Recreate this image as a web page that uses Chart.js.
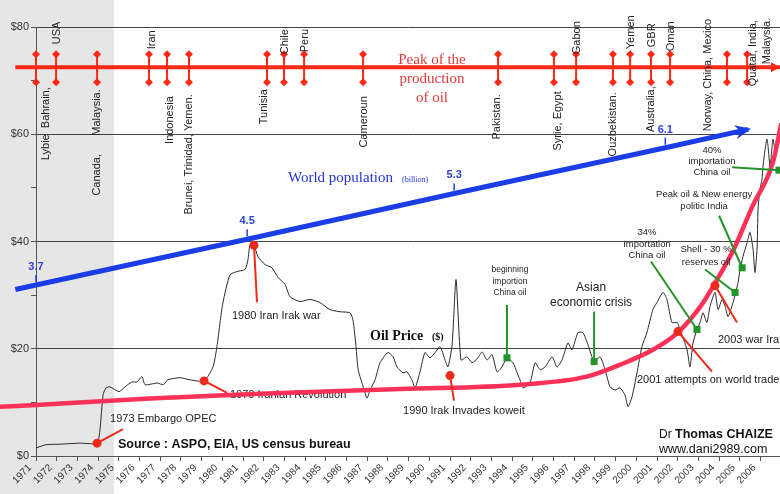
<!DOCTYPE html>
<html>
<head>
<meta charset="utf-8">
<script src="https://cdn.jsdelivr.net/npm/chart.js@4.4.0/dist/chart.umd.min.js"></script>
<style>
  html, body { margin: 0; padding: 0; background: #fff; }
</style>
</head>
<body>
<canvas id="main_chart" width="780" height="494"></canvas>
<script>
// oil price
const oilYears = [1971.00, 1971.48, 1972.16, 1973.13, 1973.95, 1974.09, 1974.24, 1974.38, 1974.57, 1975.01,
  1975.30, 1975.63, 1975.88, 1976.12, 1976.27, 1976.85, 1977.16, 1977.36, 1977.96, 1978.44,
  1979.12, 1979.55, 1979.74, 1979.89, 1980.03, 1980.37, 1980.71, 1981.10, 1981.24, 1981.34,
  1981.53, 1981.72, 1982.06, 1982.40, 1982.69, 1983.03, 1983.27, 1983.75, 1984.24, 1984.72,
  1985.20, 1985.69, 1986.17, 1986.31, 1986.46, 1986.56, 1986.75, 1986.99, 1987.14, 1987.38,
  1987.62, 1988.00, 1988.25, 1988.44, 1988.73, 1988.92, 1989.16, 1989.31, 1989.55, 1989.79,
  1990.03, 1990.28, 1990.52, 1990.76, 1990.90, 1991.10, 1991.29, 1991.53, 1991.82, 1992.06,
  1992.35, 1992.55, 1992.79, 1993.03, 1993.27, 1993.51, 1993.75, 1994.04, 1994.24, 1994.38,
  1994.53, 1994.86, 1995.11, 1995.35, 1995.59, 1995.93, 1996.17, 1996.41, 1996.70, 1996.89,
  1997.18, 1997.42, 1997.67, 1997.96, 1998.25, 1998.49, 1998.73, 1998.97, 1999.21, 1999.45,
  1999.60, 1999.79, 2000.03, 2000.27, 2000.51, 2000.80, 2000.99, 2001.29, 2001.48, 2001.72,
  2001.97, 2002.11, 2002.45, 2002.59, 2002.74, 2002.93, 2003.08, 2003.22, 2003.41, 2003.56,
  2003.80, 2003.95, 2004.14, 2004.29, 2004.43, 2004.67, 2004.91, 2005.01, 2005.15, 2005.35,
  2005.49, 2005.64, 2005.73, 2005.83, 2005.88, 2005.97, 2006.07, 2006.12, 2006.22, 2006.31,
  2006.36, 2006.46, 2006.56, 2006.60, 2006.70, 2006.80];
const oilPrices = [1.5, 2.1, 2.2, 2.4, 2.4, 4.9, 11.4, 12.7, 12.9, 12.0,
  12.9, 13.8, 13.8, 14.8, 13.3, 13.6, 13.3, 14.2, 14.6, 14.2,
  14.0, 16.6, 20.4, 24.9, 28.6, 33.8, 34.4, 34.8, 36.6, 39.4,
  39.3, 37.2, 35.7, 35.1, 33.3, 32.0, 29.7, 28.8, 29.2, 28.6,
  27.3, 26.9, 26.7, 25.4, 20.4, 16.1, 13.6, 10.8, 12.3, 14.2,
  17.4, 19.3, 18.5, 16.6, 15.5, 15.7, 14.2, 12.7, 15.7, 19.3,
  18.3, 19.3, 20.4, 17.9, 16.6, 20.7, 32.9, 17.9, 18.5, 17.4,
  18.3, 19.4, 17.9, 18.9, 15.7, 16.6, 18.3, 17.4, 15.5, 14.2,
  12.7, 13.6, 17.4, 16.1, 16.6, 18.5, 16.6, 17.9, 21.1, 19.8,
  23.0, 23.0, 20.7, 17.6, 18.5, 16.1, 12.9, 12.3, 12.7, 11.4,
  9.2, 11.0, 15.5, 20.4, 23.0, 27.3, 28.6, 30.5, 29.2, 24.9,
  24.9, 23.6, 19.8, 16.6, 21.1, 23.6, 24.9, 26.7, 24.9, 27.9,
  30.5, 27.3, 29.2, 27.9, 26.0, 28.6, 32.3, 34.8, 37.2, 39.8,
  41.7, 38.5, 34.2, 38.5, 46.0, 49.7, 51.6, 54.0, 57.2, 59.1,
  57.8, 54.0, 57.8, 59.1, 57.2, 58.5];

// red exponential trend
const trendYears = [1969.26, 1971, 1976.5, 1981.8, 1988.6, 1994.4, 1997.6, 1999.2, 2000.8, 2002.0, 2003.1, 2003.7, 2004.7, 2005.6, 2006.6, 2007.0];
const trendPrices = [9.2, 9.5, 10.7, 11.6, 12.5, 13.3, 14.8, 17.0, 19.8, 23.0, 27.9, 31.6, 38.5, 46.5, 54.8, 62.0];

// world population (billion)
const popYears = [1970, 1971, 1981.2, 1991.2, 2001.4, 2005.4];
const popValues = [3.62, 3.7, 4.5, 5.3, 6.1, 6.42];
const popLabels = ['', '3.7', '4.5', '5.3', '6.1', ''];

// peak of oil production per country
const peakLevel = 72.5;
const peakLineYears = [1970, 2007.5];
const peakYears = [1971.0, 1971.97, 1973.95, 1976.46, 1977.33, 1978.39, 1982.16, 1982.98, 1983.95, 1986.8,
  1993.32, 1996.02, 1997.09, 1998.87, 1999.7, 2000.71, 2001.63, 2004.38, 2005.35];
const countryNames = ['Lybie  Bahrain,', 'USA', 'Canada,      Malaysia.', 'Iran', 'Indonesia', 'Brunei, Trinidad, Yemen.',
  'Tunisia', 'Chile', 'Peru', 'Cameroun', 'Pakistan.', 'Syrie, Egypt', 'Gabon', 'Ouzbekistan.', 'Yemen',
  'Australia,', 'GBR', 'Oman', 'Norway, China, Mexico', 'Quatar, India,', 'Malaysia.'];
const countryYears = [1971.5, 1972.0, 1973.95, 1976.6, 1977.47, 1978.39, 1982.01, 1983.03, 1984.0, 1986.85,
  1993.27, 1996.22, 1997.14, 1998.87, 1999.74, 2000.71, 2000.76, 2001.68, 2003.46, 2005.64, 2006.31];

// events (red) and notes (green)
const eventNames = ['1973 Embargo OPEC', '1979 Iranian Revolution', '1980 Iran Irak war',
  '1990 Irak Invades koweit', '2001 attempts on world trade', '2003 war Irak'];
const eventYears = [1973.95, 1979.12, 1981.53, 1991.0, 2002.01, 2003.8];
const eventPrices = [2.4, 14.0, 39.3, 15.0, 23.2, 31.8];

const noteTexts = [['beginning', 'importion', 'China oil'], ['Asian', 'economic crisis'],
  ['34%', 'Importation', 'China oil'], ['Shell - 30 %', 'reserves oil'],
  ['Peak oil & New energy', 'politic India'], ['40%', 'importation', 'China oil']];
const noteYears = [1993.75, 1997.96, 2002.93, 2004.77, 2005.11, 2006.89];
const notePrices = [18.3, 17.6, 23.6, 30.5, 35.1, 53.3];

const shadeEndYear = 1974.77;

// layout of the labels (pixel offsets)
const countryPlace = [[20, 'right'], [-23, 'left'], [22, 'right'], [-18, 'left'], [29, 'right'], [27, 'right'],
  [22, 'right'], [-13, 'left'], [-15, 'left'], [29, 'right'], [27, 'right'], [24, 'right'], [-13, 'left'],
  [25, 'right'], [-18, 'left'], [19, 'right'], [-20, 'left'], [-16, 'left'], [64, 'left'], [19, 'left'], [-3, 'left']];
const eventPlace = [{line: [26, -14], text: [13, -24]}, {line: [23, 12], text: [26, 14]},
  {line: [3, 57], text: [-22, 71]}, {line: [4, 25], text: [-47, 35]},
  {line: [34, 40], text: [-41, 48]}, {line: [22, 37], text: [3, 54]}];
const notePlace = [{line: [0, -53], text: [3, -88], lh: 11.5, size: 8.5},
  {line: [0, -50], text: [-3, -74], lh: 15, size: 12},
  {line: [-46, -68], text: [-50, -97], lh: 11.5, size: 9.5},
  {line: [-30, -23], text: [-29, -43], lh: 13, size: 9.5},
  {line: [-23, -52], text: [-38, -73], lh: 12, size: 9.5},
  {line: [-47, -3], text: [-67, -20], lh: 11, size: 9.5}];

const SANS = '"Liberation Sans", Arial, sans-serif';
const SERIF = '"Liberation Serif", "Times New Roman", serif';
const RED = '#ff2814';
const BLUE = '#1b3de6';
const GREEN = '#23942a';

function toPoints(xs, ys) {
  return xs.map((x, i) => ({x: x, y: ys[i]}));
}

function diamond(ctx, cx, cy, r) {
  ctx.beginPath();
  ctx.moveTo(cx, cy - r);
  ctx.lineTo(cx + r, cy);
  ctx.lineTo(cx, cy + r);
  ctx.lineTo(cx - r, cy);
  ctx.closePath();
  ctx.fill();
}

const decorations = {
  id: 'decorations',
  beforeDraw(chart) {
    const {ctx, scales: {x}} = chart;
    ctx.save();
    ctx.fillStyle = '#fff';
    ctx.fillRect(0, 0, chart.width, chart.height);
    ctx.fillStyle = '#e6e6e6';
    ctx.fillRect(0, 0, x.getPixelForValue(shadeEndYear), chart.height);
    ctx.restore();
  },
  beforeDatasetsDraw(chart) {
    const {ctx, scales: {x, y}} = chart;
    ctx.save();
    // event captions sit under the curves
    ctx.fillStyle = '#222';
    ctx.font = '11px ' + SANS;
    ctx.textAlign = 'left';
    ctx.textBaseline = 'middle';
    eventNames.forEach((name, i) => {
      const ex = x.getPixelForValue(eventYears[i]);
      const ey = y.getPixelForValue(eventPrices[i]);
      ctx.fillText(name, ex + eventPlace[i].text[0], ey + eventPlace[i].text[1]);
    });
    ctx.restore();
  },
  afterDatasetsDraw(chart) {
    const {ctx, scales: {x, y, yPop}} = chart;
    ctx.save();

    // peak markers
    const peakY = y.getPixelForValue(peakLevel);
    ctx.strokeStyle = RED;
    ctx.fillStyle = RED;
    ctx.lineWidth = 2;
    peakYears.forEach(yr => {
      const mx = x.getPixelForValue(yr);
      ctx.beginPath();
      ctx.moveTo(mx, peakY - 13);
      ctx.lineTo(mx, peakY + 15);
      ctx.stroke();
      diamond(ctx, mx, peakY - 13, 4);
      diamond(ctx, mx, peakY + 15, 4);
    });
    // arrow at the end of the peak line
    const right = chart.width;
    ctx.beginPath();
    ctx.moveTo(right, peakY);
    ctx.lineTo(right - 9, peakY - 5);
    ctx.lineTo(right - 9, peakY + 5);
    ctx.closePath();
    ctx.fill();

    // country names
    ctx.fillStyle = '#222';
    ctx.font = '11px ' + SANS;
    ctx.textBaseline = 'middle';
    countryNames.forEach((name, i) => {
      ctx.save();
      ctx.translate(x.getPixelForValue(countryYears[i]), peakY + countryPlace[i][0]);
      ctx.rotate(-Math.PI / 2);
      ctx.textAlign = countryPlace[i][1];
      ctx.fillText(name, 0, 0);
      ctx.restore();
    });

    // "Peak of the production of oil"
    ctx.fillStyle = '#df3a3a';
    ctx.font = '15px ' + SERIF;
    ctx.textAlign = 'center';
    ['Peak of the', 'production', 'of oil'].forEach((t, i) => {
      ctx.fillText(t, 432, 60 + i * 19);
    });

    // population labels + arrow
    ctx.strokeStyle = BLUE;
    ctx.fillStyle = '#3042d8';
    ctx.font = 'bold 11px ' + SANS;
    ctx.lineWidth = 1.5;
    popYears.forEach((yr, i) => {
      if (!popLabels[i]) return;
      const lx = x.getPixelForValue(yr);
      const ly = yPop.getPixelForValue(popValues[i]);
      ctx.beginPath();
      ctx.moveTo(lx, ly - 10);
      ctx.lineTo(lx, ly - 3);
      ctx.stroke();
      ctx.fillText(popLabels[i], lx, ly - 18);
    });
    const n = popYears.length;
    const ax = x.getPixelForValue(popYears[n - 1]);
    const ay = yPop.getPixelForValue(popValues[n - 1]);
    const bx = x.getPixelForValue(popYears[n - 2]);
    const by = yPop.getPixelForValue(popValues[n - 2]);
    const len = Math.hypot(ax - bx, ay - by);
    const dx = (ax - bx) / len, dy = (ay - by) / len;
    ctx.fillStyle = BLUE;
    ctx.beginPath();
    ctx.moveTo(ax + dx * 3, ay + dy * 3);
    ctx.lineTo(ax - dx * 13 - dy * 7, ay - dy * 13 + dx * 7);
    ctx.lineTo(ax - dx * 8, ay - dy * 8);
    ctx.lineTo(ax - dx * 13 + dy * 7, ay - dy * 13 - dx * 7);
    ctx.closePath();
    ctx.fill();

    // "World population (billion)"
    ctx.fillStyle = '#2233dd';
    ctx.textAlign = 'left';
    ctx.font = '15px ' + SERIF;
    ctx.fillText('World population', 288, 178);
    ctx.font = '8px ' + SERIF;
    ctx.fillText('(billion)', 402, 180);

    // "Oil Price ($)"
    ctx.fillStyle = '#111';
    ctx.font = 'bold 14px ' + SERIF;
    ctx.fillText('Oil Price', 370, 336);
    ctx.font = 'bold 10px ' + SERIF;
    ctx.fillText('($)', 432, 337);

    // red events
    ctx.strokeStyle = '#ee2a1c';
    ctx.fillStyle = '#ee2a1c';
    ctx.lineWidth = 2;
    eventNames.forEach((name, i) => {
      const ex = x.getPixelForValue(eventYears[i]);
      const ey = y.getPixelForValue(eventPrices[i]);
      ctx.beginPath();
      ctx.moveTo(ex, ey);
      ctx.lineTo(ex + eventPlace[i].line[0], ey + eventPlace[i].line[1]);
      ctx.stroke();
      ctx.beginPath();
      ctx.arc(ex, ey, 4.5, 0, Math.PI * 2);
      ctx.fill();
    });

    // green notes
    noteTexts.forEach((lines, i) => {
      const nx = x.getPixelForValue(noteYears[i]);
      const ny = y.getPixelForValue(notePrices[i]);
      const p = notePlace[i];
      ctx.strokeStyle = GREEN;
      ctx.fillStyle = GREEN;
      ctx.lineWidth = 2;
      ctx.beginPath();
      ctx.moveTo(nx + p.line[0], ny + p.line[1]);
      ctx.lineTo(nx, ny);
      ctx.stroke();
      ctx.fillRect(nx - 3.5, ny - 3.5, 7, 7);
      ctx.fillStyle = '#222';
      ctx.font = p.size + 'px ' + SANS;
      ctx.textAlign = 'center';
      lines.forEach((t, k) => {
        ctx.fillText(t, nx + p.text[0], ny + p.text[1] + k * p.lh);
      });
    });

    // source and author
    ctx.fillStyle = '#111';
    ctx.textAlign = 'left';
    ctx.font = 'bold 12.5px ' + SANS;
    ctx.fillText('Source : ASPO, EIA, US census bureau', 118, 445);
    ctx.font = '12px ' + SANS;
    ctx.fillText('Dr', 659, 435);
    const drW = ctx.measureText('Dr ').width;
    ctx.font = 'bold 12.5px ' + SANS;
    ctx.fillText('Thomas CHAIZE', 659 + drW, 435);
    ctx.font = '12.5px ' + SANS;
    ctx.fillText('www.dani2989.com', 659, 450);

    ctx.restore();
  }
};

new Chart(document.getElementById('main_chart'), {
  type: 'line',
  data: {
    datasets: [
      {
        label: 'Peak of the production of oil',
        data: toPoints(peakLineYears, peakLineYears.map(() => peakLevel)),
        borderColor: RED,
        borderWidth: 4,
        pointRadius: 0,
        clip: false,
        order: 1
      },
      {
        label: 'Trend',
        data: toPoints(trendYears, trendPrices),
        borderColor: '#ff3158',
        borderWidth: 4.5,
        pointRadius: 0,
        cubicInterpolationMode: 'monotone',
        clip: false,
        order: 2
      },
      {
        label: 'World population',
        data: toPoints(popYears, popValues),
        yAxisID: 'yPop',
        borderColor: BLUE,
        borderWidth: 5,
        pointRadius: 0,
        clip: false,
        order: 3
      },
      {
        label: 'Oil Price',
        data: toPoints(oilYears, oilPrices),
        borderColor: '#2a2a2a',
        borderWidth: 1,
        pointRadius: 0,
        tension: 0.2,
        order: 4
      }
    ]
  },
  options: {
    responsive: false,
    animation: false,
    events: [],
    layout: {padding: {top: 27, right: 0, left: 0, bottom: 0}},
    plugins: {
      legend: {display: false},
      tooltip: {enabled: false}
    },
    scales: {
      x: {
        type: 'linear',
        min: 1971,
        max: 2006.94,
        afterFit(scale) { scale.height = 38; },
        ticks: {
          stepSize: 1,
          includeBounds: false,
          autoSkip: false,
          minRotation: 45,
          maxRotation: 45,
          padding: 1,
          labelOffset: -6,
          color: '#333',
          font: {family: SANS, size: 10},
          callback: v => String(v)
        },
        grid: {drawOnChartArea: false, drawTicks: true, tickLength: 5, tickColor: '#555'},
        border: {color: '#555', width: 1}
      },
      y: {
        min: 0,
        max: 80,
        afterFit(scale) { scale.width = 36; },
        ticks: {
          stepSize: 10,
          padding: 2,
          color: '#333',
          font: {family: SANS, size: 11},
          callback: v => (v % 20 === 0 ? '$' + v : '')
        },
        grid: {
          color: c => (c.tick && c.tick.value % 20 === 0 ? '#444' : 'rgba(0,0,0,0)'),
          tickColor: '#555',
          tickLength: 5
        },
        border: {color: '#555', width: 1}
      },
      yPop: {
        display: false,
        min: 0.71,
        max: 8.21
      }
    }
  },
  plugins: [decorations]
});
</script>
</body>
</html>
